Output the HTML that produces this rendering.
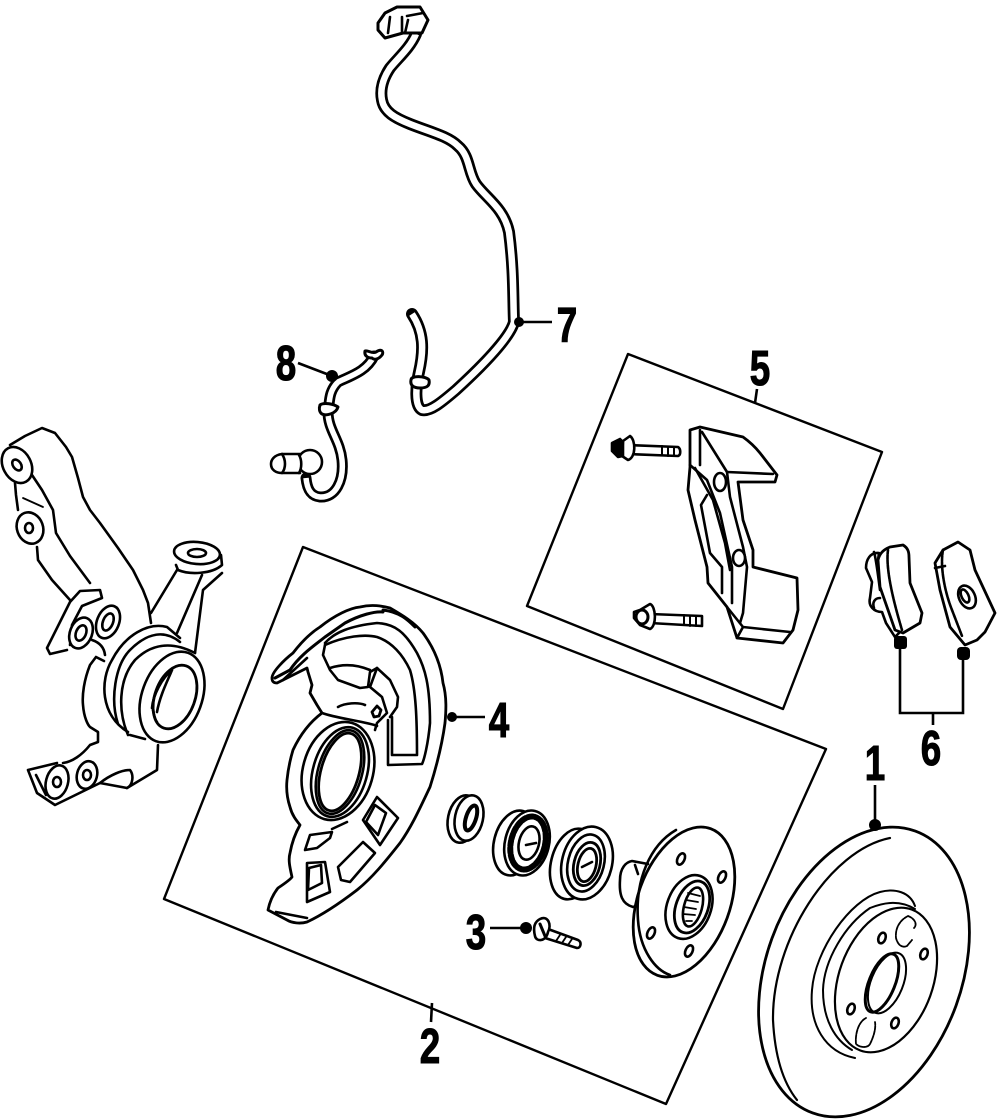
<!DOCTYPE html>
<html><head><meta charset="utf-8"><style>
html,body{margin:0;padding:0;background:#fff;width:1000px;height:1120px;overflow:hidden}
svg{display:block}
.n{font-family:"Liberation Sans",sans-serif;font-weight:700;font-size:40px;fill:#000;stroke:#000;stroke-width:.9px;text-anchor:middle}
</style></head><body>
<svg width="1000" height="1120" viewBox="0 0 1000 1120" xmlns="http://www.w3.org/2000/svg">
<rect width="1000" height="1120" fill="#fff"/>
<g fill="none" stroke="#000" stroke-width="2.6" stroke-linejoin="round" stroke-linecap="round">
<!-- frames -->
<polygon points="303,547 826,749 666,1104 164,899" stroke-width="2.4"/>
<polygon points="628,354 882,452 783,709 527,606" stroke-width="2.4"/>

<!-- wire 7 -->
<path d="M416,34 C410,48 398,58 390,68 C382,80 380,90 382,100 C384,112 395,118 410,124 C430,132 448,136 458,146 C470,156 468,172 476,184 C486,198 504,208 509,232 C514,270 513,300 514,322 C510,338 480,368 456,390 C442,402 430,412 422,410 C414,406 416,385 419,372 C424,350 424,332 412,314" stroke="#000" stroke-width="12"/>
<path d="M416,34 C410,48 398,58 390,68 C382,80 380,90 382,100 C384,112 395,118 410,124 C430,132 448,136 458,146 C470,156 468,172 476,184 C486,198 504,208 509,232 C514,270 513,300 514,322 C510,338 480,368 456,390 C442,402 430,412 422,410 C414,406 416,385 419,372 C424,350 424,332 412,314" stroke="#fff" stroke-width="6.5" stroke-linecap="butt"/>
<path d="M378,23 L385,13 L397,7 L420,7 L428,20 L422,33 L403,33 L385,38 L378,30Z" fill="#fff" stroke-width="3"/>
<path d="M390,17 L388,33 M402,17 L402,33 M407,16 L423,13 M408,20 L405,33"/>
<path d="M411,380 C411,375 426,376 429,380 C430,385 428,388 420,388 C413,388 410,385 411,380Z" fill="#fff" stroke-width="3"/>
<!-- wire 8 -->
<path d="M374,356 C366,372 350,376 338,382 C328,392 330,402 328,412 C328,430 340,440 342,460 C344,480 336,498 320,497 C310,496 307,488 306,478" stroke="#000" stroke-width="11"/>
<path d="M374,356 C366,372 350,376 338,382 C328,392 330,402 328,412 C328,430 340,440 342,460 C344,480 336,498 320,497 C310,496 307,488 306,478" stroke="#fff" stroke-width="5.5" stroke-linecap="butt"/>
<path d="M365,351 C368,350 372,354 376,352 C382,348 384,352 382,355 C378,360 374,360 372,358 C368,358 364,356 365,351Z" fill="#fff" stroke-width="3"/>
<path d="M320,405 C324,402 334,404 338,407 C336,414 326,416 322,414 C319,412 319,408 320,405Z" fill="#fff" stroke-width="3"/>
<circle cx="310" cy="462" r="12" fill="#fff"/>
<path d="M300,454 L282,454 C274,455 271,460 271,464 C271,470 276,473 282,473 L300,473" fill="#fff"/>
<path d="M282,454 C286,460 286,468 282,473 M299,455 C302,460 302,468 299,473"/>

<!-- knuckle -->
<path d="M10,445 L25,436 L42,428 L55,433 L66,447 L72,457 L78,478 L83,497 L90,510 L100,523 L118,548 L133,570 L143,590 L148,603 L151,623"/>
<path d="M30,472 L42,490 L53,510 L56,533 L70,556 L90,583"/>
<path d="M15,483 L16,495 L18,510"/>
<path d="M37,547 L38,560 L52,580 L70,600"/>
<path d="M23,498 L43,507" stroke-width="1.8"/>
<ellipse cx="17" cy="465" rx="14" ry="19" transform="rotate(-28 17 465)" fill="#fff"/>
<ellipse cx="17" cy="465" rx="4" ry="6" transform="rotate(-35 17 465)"/>
<ellipse cx="30" cy="528" rx="13" ry="16" transform="rotate(-20 30 528)" fill="#fff"/>
<ellipse cx="29" cy="528" rx="4" ry="5"/>
<path d="M70,602 L47,648 L50,654 L67,650 M70,602 L80,591 L100,590 L102,598 L82,606 L72,625 L70,645"/>
<ellipse cx="81" cy="633" rx="11" ry="16" transform="rotate(22 81 633)" fill="#fff"/>
<ellipse cx="81" cy="633" rx="5" ry="8" transform="rotate(22 81 633)"/>
<ellipse cx="108" cy="622" rx="11" ry="17" transform="rotate(22 108 622)" fill="#fff"/>
<ellipse cx="108" cy="622" rx="5" ry="9" transform="rotate(22 108 622)"/>
<path d="M92,640 C98,642 104,646 105,655 M96,657 L104,661 M96,657 L90,665 C84,680 82,695 83,705 C84,718 88,725 90,727 L98,732 L98,742 L90,745 C82,755 72,762 63,763"/>
<path d="M151,613 L177,570 M177,633 L202,575 M195,653 L203,590 L222,573"/>
<path d="M176,565 L178,570 C190,575 212,574 222,565 L221,555"/>
<ellipse cx="197" cy="553" rx="23" ry="11" transform="rotate(5 197 553)" fill="#fff"/>
<ellipse cx="197" cy="553" rx="9" ry="4"/>
<path d="M128,732 C100,715 100,680 112,660 C125,635 148,622 167,627 L180,638"/>
<path d="M118,724 C110,700 115,665 130,650 C148,632 165,630 180,642 M128,735 C118,712 118,680 135,660 C150,645 170,640 195,653"/>
<path d="M130,735 L145,739"/>
<ellipse cx="172" cy="697" rx="30" ry="47" transform="rotate(20 172 697)" fill="#fff"/>
<ellipse cx="175" cy="697" rx="20" ry="33" transform="rotate(20 175 697)" stroke-width="2.8"/>
<path d="M152,708 C153,695 162,678 172,670 M157,712 C160,695 168,680 172,670" />
<path d="M153,710 C154,715 155,720 157,722"/>
<path d="M158,745 L157,770 L127,788 L100,783 L55,805 L37,793 L28,770 L57,763"/>
<path d="M100,783 C110,775 122,770 130,770 C134,775 133,785 127,788"/>
<path d="M36,775 L46,795"/>
<ellipse cx="57" cy="782" rx="11" ry="17" transform="rotate(15 57 782)" fill="#fff"/>
<ellipse cx="57" cy="782" rx="4" ry="5"/>
<ellipse cx="87" cy="775" rx="10" ry="14" transform="rotate(15 87 775)" fill="#fff"/>
<ellipse cx="87" cy="775" rx="4" ry="5"/>

<!-- shield -->
<path stroke-width="2.8" fill="#fff" d="M272,678 C272,672 284,660 293,653 C303,640 312,632 320,627 C335,615 350,608 360,607 C372,604 382,606 390,608 C402,615 414,622 423,633 C434,648 441,665 443,683 C447,697 446,712 445,723 C442,745 436,768 430,787 C420,808 412,826 400,843 C385,862 372,878 357,890 C340,903 322,915 307,922 C300,924 292,923 287,920 L268,910 C270,900 274,893 278,888 C284,884 290,880 292,877 C290,868 288,860 290,853 C292,842 296,832 300,825 C296,820 292,815 290,807 C287,798 286,790 287,780 C288,770 290,760 293,750 C300,735 310,722 322,713 L317,705 L310,693 L312,685 L308,672 L307,668 L293,675 L277,683 C274,683 272,682 272,678Z"/>
<path d="M275,678 L290,670 C300,655 315,645 325,637 L345,623 C360,615 375,611 383,612 M383,610 C400,612 408,620 415,627" stroke-width="3"/>
<path d="M283,680 L307,658 M325,643 C335,632 350,626 377,623 C395,624 405,632 417,653 C425,668 430,685 430,723 C428,745 424,760 422,764 L388,765 L388,720"/>
<path d="M325,645 C345,636 365,634 377,637 C392,642 403,655 410,670 C416,690 417,720 417,755 L392,755 L392,717"/>
<path d="M325,645 L323,655 L330,670 L338,680 L360,688 L368,687 L370,672 L377,668 L390,680 L398,697 L397,707 L390,717"/>
<path d="M330,668 C345,663 358,665 370,670 M377,668 L370,687 L382,697 L387,713 L377,723 L375,730"/>
<path d="M338,707 C345,703 358,702 365,705"/>
<path d="M377,706 L381,710 L379,716 L374,717 L372,712Z" stroke-width="2.8"/>
<path d="M322,713 C335,718 368,722 377,726"/>
<ellipse cx="338" cy="771" rx="35" ry="50" transform="rotate(16 338 771)" fill="#fff"/>
<ellipse cx="340" cy="772" rx="27" ry="46" transform="rotate(16 340 772)"/>
<ellipse cx="340" cy="772" rx="22" ry="43" transform="rotate(16 340 772)"/>
<ellipse cx="340" cy="772" rx="19" ry="40" transform="rotate(16 340 772)" stroke-width="2.8"/>
<path d="M377,797 L398,818 L380,845 L363,820 Z"/>
<path d="M375,805 L386,813 L378,835 L366,822 Z"/>
<path d="M338,867 L363,842 L375,853 L350,882 L341,880 Z"/>
<path d="M307,863 L325,862 L330,892 L307,902 Z"/>
<path d="M309,868 L321,865 L322,883 L308,890 Z"/>
<path d="M305,850 L310,835 L332,832 L330,838 L317,848 Z"/>
<path d="M332,829 L347,822"/>
<path d="M276,912 L307,918"/>

<!-- seal -->
<ellipse cx="463" cy="819" rx="15" ry="24" transform="rotate(12 463 819)" fill="#fff"/>
<ellipse cx="469" cy="818" rx="14" ry="23" transform="rotate(12 469 818)" fill="#fff"/>
<ellipse cx="471" cy="818" rx="5" ry="13" transform="rotate(18 471 818)" stroke-width="4"/>
<!-- bearing 1 -->
<ellipse cx="515" cy="843" rx="21" ry="33" transform="rotate(14 515 843)" fill="#fff"/>
<ellipse cx="527" cy="843" rx="22" ry="33" transform="rotate(14 527 843)" fill="#fff"/>
<ellipse cx="528" cy="843" rx="17" ry="27" transform="rotate(14 528 843)" stroke-width="6" stroke-dasharray="5 2"/>
<ellipse cx="529" cy="843" rx="10" ry="17" transform="rotate(14 529 843)" fill="#fff"/>
<path d="M526,845 L536,843"/>
<!-- bearing 2 -->
<ellipse cx="573" cy="864" rx="22" ry="36" transform="rotate(14 573 864)" fill="#fff"/>
<ellipse cx="587" cy="863" rx="25" ry="37" transform="rotate(14 587 863)" fill="#fff"/>
<ellipse cx="586" cy="863" rx="18" ry="29" transform="rotate(14 586 863)"/>
<ellipse cx="587" cy="864" rx="13" ry="22" transform="rotate(14 587 864)" stroke-width="2.8"/>
<ellipse cx="587" cy="865" rx="9" ry="17" transform="rotate(14 587 865)" stroke-width="2.8"/>
<path d="M582,867 L592,862"/>
<!-- hub -->
<path d="M648,864 L632,861 C626,862 620,868 620,880 C619,895 622,904 633,907 L640,905" fill="#fff"/>
<path d="M635,865 L638,874"/>
<ellipse cx="684" cy="902" rx="46" ry="78" transform="rotate(20 684 902)" fill="#fff" stroke-width="2.8"/>
<path d="M676,830 C650,845 635,880 638,920 C640,950 655,970 670,975"/>
<ellipse cx="689" cy="907" rx="22" ry="33" transform="rotate(20 689 907)"/>
<ellipse cx="692" cy="907" rx="16" ry="27" transform="rotate(20 692 907)" stroke-width="2.8"/>
<ellipse cx="693" cy="907" rx="9" ry="20" transform="rotate(15 693 907)"/>
<path d="M688,893 L700,896 M686,900 L698,902 M684,907 L696,909 M683,914 L695,915 M686,921 L692,921" stroke-width="1.8"/>
<ellipse cx="681" cy="859" rx="3.5" ry="6" transform="rotate(25 681 859)"/>
<ellipse cx="722" cy="877" rx="3.5" ry="6" transform="rotate(25 722 877)"/>
<ellipse cx="651" cy="933" rx="3.5" ry="6" transform="rotate(25 651 933)"/>
<ellipse cx="689" cy="951" rx="3.5" ry="6" transform="rotate(25 689 951)"/>
<!-- bolt 3 -->
<path d="M548,929 L578,940 C582,942 581,948 577,948 L545,938" fill="#fff"/>
<path d="M560,935 L556,941 M566,937 L562,943 M572,939 L568,945" stroke-width="1.8"/>
<path d="M540,919 C548,915 552,925 548,932 C546,942 536,942 535,936 C533,928 534,922 540,919Z" fill="#fff"/>
<path d="M540,924 L545,936" stroke-width="3"/>

<!-- rotor -->
<ellipse cx="864" cy="972" rx="98" ry="150" transform="rotate(20 864 972)" stroke-width="2.8"/>
<path d="M890,838 C830,850 772,940 773,1020 C775,1060 785,1085 797,1100" stroke-width="2.2"/>
<path d="M915,906 C910,892 895,888 880,892 C850,900 815,950 812,990 C809,1025 825,1052 855,1058" stroke-width="2"/>
<path d="M915,909 C900,900 885,902 870,908 C845,925 824,960 823,990 C823,1020 835,1040 852,1050" stroke-width="2"/>
<ellipse cx="886" cy="980" rx="47" ry="75" transform="rotate(20 886 980)" stroke-width="2.2"/>
<ellipse cx="887" cy="983" rx="16" ry="32" transform="rotate(22 887 983)" stroke-width="2"/>
<ellipse cx="882" cy="983" rx="13" ry="31" transform="rotate(22 882 983)" stroke-width="3"/>
<path d="M908,916 C900,920 895,928 896,938 C898,946 903,948 907,946 L912,940 M908,916 C914,918 918,924 914,928" stroke-width="1.8" stroke-dasharray="4 1"/>
<path d="M866,1018 C858,1022 855,1035 856,1044 C860,1048 868,1048 870,1044 C874,1036 876,1028 875,1022" stroke-width="1.8" stroke-dasharray="4 1"/>
<ellipse cx="882" cy="938" rx="3.5" ry="5.5" transform="rotate(20 882 938)"/>
<ellipse cx="924" cy="954" rx="3.5" ry="5.5" transform="rotate(20 924 954)"/>
<ellipse cx="895" cy="1023" rx="3.5" ry="5.5" transform="rotate(20 895 1023)"/>
<ellipse cx="851" cy="1009" rx="3.5" ry="5.5" transform="rotate(20 851 1009)"/>

<!-- caliper bracket -->
<path stroke-width="2.8" fill="#fff" d="M690,430 L700,427 L743,437 C750,442 756,448 760,453 L777,475 L775,482 L738,482 L743,520 L753,550 L753,567 L797,578 L798,610 L793,630 L783,643 L737,638 L727,607 L708,583 L707,567 L695,520 L688,490 L690,467Z"/>
<path d="M700,430 L700,465 M702,432 L727,472 L730,497 L743,547 L747,567 L743,613 L740,623"/>
<path d="M727,472 L773,474"/>
<path d="M690,465 L707,480 L720,513 L732,567 L732,603"/>
<path d="M695,468 L713,500 L725,543 L730,570"/>
<path d="M707,495 L701,505 L710,553 L722,567 L722,593"/>
<path d="M727,607 L743,627 L790,632 M737,638 L743,627"/>
<ellipse cx="720" cy="482" rx="6" ry="9" fill="#fff"/>
<ellipse cx="739" cy="558" rx="6" ry="8" fill="#fff"/>
<!-- caliper bolts -->
<path d="M628,445 L678,447 C681,449 681,455 678,456 L628,454" fill="#fff"/>
<path d="M662,446 L662,455 M668,447 L668,456 M674,447 L674,456" stroke-width="2"/>
<path d="M623,441 L630,436 C636,440 636,458 628,460 L622,456Z" fill="#fff"/>
<path d="M612,443 L620,439 L623,442 L623,456 L618,457 L612,451Z" fill="#000"/>
<path d="M650,614 L702,616 L702,626 L650,623" fill="#fff"/>
<path d="M684,615 L684,625 M690,616 L690,626 M696,616 L696,626" stroke-width="2"/>
<path d="M640,610 L650,604 C656,606 657,626 650,629 L640,625 L634,618 L634,612Z" fill="#fff"/>
<ellipse cx="642" cy="617" rx="6" ry="7" stroke-width="3"/>

<!-- pads -->
<path fill="#fff" d="M879,553 C870,552 866,560 866,568 L872,582 L870,598 C868,606 874,612 882,612 L886,623 L895,637 L902,630 L885,590 L878,560Z"/>
<path d="M880,598 C875,598 872,602 874,608 M874,552 C876,558 878,575 880,590"/>
<path fill="#fff" stroke-width="2.8" d="M890,547 L903,545 C908,548 909,552 909,557 L910,583 L922,613 L920,623 L903,633 L895,630 L880,587 L878,560 C880,552 885,549 890,547Z"/>
<path d="M888,550 C886,565 890,590 902,630" stroke-dasharray="4 1"/>
<path fill="#fff" stroke-width="2.8" d="M958,542 L970,550 L975,570 L995,613 L985,632 L977,640 L965,645 L950,627 L940,590 L935,563 L943,550Z"/>
<path d="M943,550 C940,565 944,590 952,610 L962,636" stroke-dasharray="5 1"/>
<path d="M935,568 L945,566"/>
<ellipse cx="967" cy="597" rx="8" ry="12" transform="rotate(-25 967 597)"/>
<ellipse cx="965" cy="596" rx="3.5" ry="7" transform="rotate(-25 965 596)"/>
</g>

<!-- leaders -->
<g stroke="#000" stroke-width="2.6" fill="none">
<path d="M519,322 L552,322"/>
<path d="M298,363 L332,376"/>
<path d="M757,389 L755,403"/>
<path d="M452,717 L485,717"/>
<path d="M490,928 L525,928"/>
<path d="M432,1003 L431,1022"/>
<path d="M875,785 L875,826"/>
<path d="M900,642 L900,713 L963,713 L963,653 M933,713 L933,725"/>
</g>
<g fill="#000">
<circle cx="519" cy="322" r="5"/>
<circle cx="332" cy="376" r="6"/>
<circle cx="452" cy="717" r="5"/>
<circle cx="526" cy="928" r="6"/>
<circle cx="875" cy="825" r="6"/>
<rect x="894" y="636" width="13" height="13" rx="3"/>
<rect x="957" y="647" width="13" height="13" rx="4"/>
</g>

<!-- numbers -->
<text class="n" transform="translate(567,342) scale(.92,1.22)">7</text>
<text class="n" transform="translate(286,380) scale(.92,1.22)">8</text>
<text class="n" transform="translate(760,385) scale(.92,1.22)">5</text>
<text class="n" transform="translate(499,737) scale(.92,1.22)">4</text>
<text class="n" transform="translate(476,949) scale(.92,1.22)">3</text>
<text class="n" transform="translate(430,1063) scale(.92,1.22)">2</text>
<text class="n" transform="translate(875,780) scale(.92,1.22)">1</text>
<text class="n" transform="translate(931,765) scale(.92,1.22)">6</text>
</svg>
</body></html>
